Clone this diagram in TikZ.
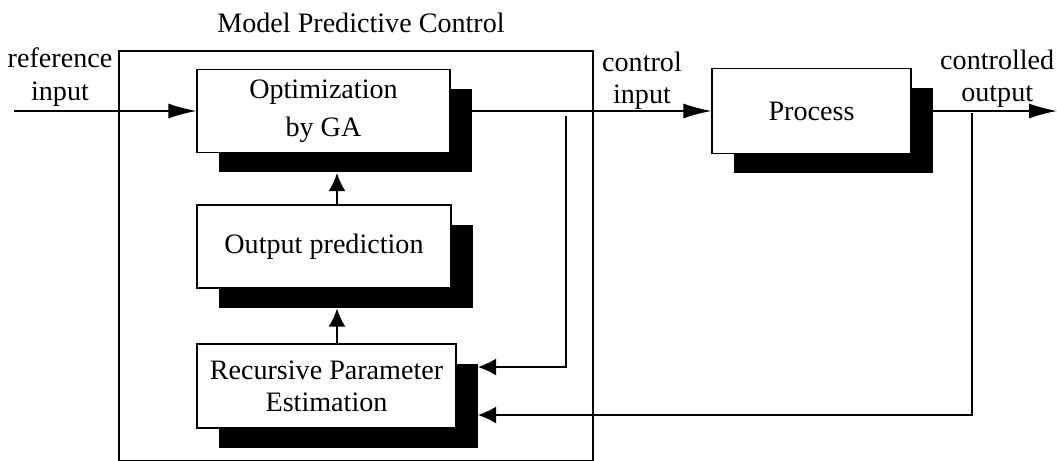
\documentclass[tikz,border=0pt]{standalone}
\usepackage{fontspec}
\setmainfont{Liberation Serif}
\usetikzlibrary{arrows.meta, shadows, calc}

\begin{document}
\begin{tikzpicture}
[font = \fontsize{20}{23}\selectfont, line width = 0.9pt,
 block/.style = {draw, fill = white, align = center, inner sep = 0pt,
   drop shadow = {shadow xshift = 0.54cm, shadow yshift = -0.5cm, fill = black, opacity = 1}},
 sig/.style = {align = center},
 bigtip/.style = {-{Latex[length = 0.7cm, width = 0.375cm]}},
 smalltip/.style = {-{Latex[length = 0.45cm, width = 0.42cm]}}]
\useasboundingbox (0, 0) rectangle (26.425, 11.525);
\node (title) at (9.025, 10.95) {Model Predictive Control};
\node [draw, minimum width = 11.85cm, minimum height = 10.25cm] (mpc) at (8.9, 5.125) {};

\node [block, minimum width = 6.325cm, minimum height = 2.075cm] (opt) at (8.0875, 8.75) {Optimization\\[4pt] by GA};
\node [block, minimum width = 6.35cm, minimum height = 2.075cm] (pred) at (8.1, 5.3625) {Output prediction};
\node [block, minimum width = 6.475cm, minimum height = 2.1cm] (rpe) at (8.1625, 1.875) {Recursive Parameter\\ Estimation};
\node [block, minimum width = 4.975cm, minimum height = 2.125cm] (proc) at (20.2875, 8.75) {Process};

\node [sig] (ref) at (1.5, 9.6) {reference\\ input};
\node [sig] (ctrl) at (16.05, 9.5) {control\\ input};
\node [sig] (cout) at (24.93, 9.55) {controlled\\ output};

\coordinate (in) at (0.35, 8.75);
\coordinate (out) at (26.425, 8.75);
\coordinate (tap1) at (14.15, 8.625);
\coordinate (tap2) at (24.3, 8.7);
\coordinate (fb1) at (11.95, 2.35);
\coordinate (fb2) at (11.95, 1.15);

\draw [bigtip] (in) -- (opt.west);
\draw [bigtip] ($(opt.east) + (0.54, 0)$) -- (proc.west);
\draw [bigtip] ($(proc.east) + (0.54, 0)$) -- (out);
\draw [smalltip] (pred.north -| 8.425, 0) -- ($(opt.south -| 8.425, 0) + (0, -0.5)$);
\draw [smalltip] (rpe.north -| 8.425, 0) -- ($(pred.south -| 8.425, 0) + (0, -0.5)$);
\draw [smalltip] (tap1) |- (fb1);
\draw [smalltip] (tap2) |- (fb2);
\end{tikzpicture}
\end{document}
